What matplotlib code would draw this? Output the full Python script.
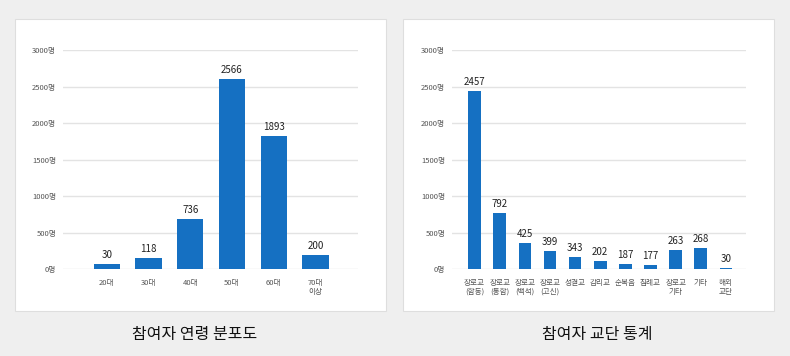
import matplotlib.pyplot as plt
from matplotlib.patches import Rectangle

plt.rcParams['font.family'] = ['Noto Sans CJK KR', 'DejaVu Sans']

# 연령 분포 (bar heights, labels as printed)
age_cats = ['20대', '30대', '40대', '50대', '60대', '70대\n이상']
age_heights = [77, 150, 692, 2603, 1828, 200]
age_labels = ['30', '118', '736', '2566', '1893', '200']

# 교단 통계
den_cats = ['장로교\n(합동)', '장로교\n(통합)', '장로교\n(백석)', '장로교\n(고신)', '성결교',
            '감리교', '순복음', '침례교', '장로교\n기타', '기타', '해외\n교단']
den_heights = [2443, 774, 360, 246, 168, 114, 77, 55, 264, 291, 18]
den_labels = ['2457', '792', '425', '399', '343', '202', '187', '177', '263', '268', '30']

yticks = [0, 500, 1000, 1500, 2000, 2500, 3000]
bar_color = '#1570c2'

fig = plt.figure(figsize=(7.9, 3.56), dpi=100)
fig.patch.set_facecolor('#efefef')

W, H = 790, 356
def px(x0, y0, x1, y1):
    return [x0 / W, (H - y1) / H, (x1 - x0) / W, (y1 - y0) / H]

# white panels behind the axes
for x0, x1 in [(15, 386), (403, 774)]:
    r = px(x0, 19, x1, 311)
    fig.patches.append(Rectangle((r[0], r[1]), r[2], r[3], transform=fig.transFigure,
                                 facecolor='white', edgecolor='#dedede', lw=0.8, zorder=-5))


def draw(rect, cats, heights, labels, width, xlim, title, title_x):
    ax = fig.add_axes(rect)
    ax.set_facecolor('none')
    x = list(range(len(cats)))
    bars = ax.bar(x, heights, width=width, color=bar_color, zorder=3)
    for b, lab in zip(bars, labels):
        ax.annotate(lab, (b.get_x() + b.get_width() / 2, b.get_height()),
                    xytext=(0, 3), textcoords='offset points', ha='center', va='bottom',
                    fontsize=7, color='#222222')
    ax.set_ylim(0, 3000)
    ax.set_xlim(*xlim)
    ax.set_yticks(yticks)
    ax.set_yticklabels([f'{v}명' for v in yticks], fontsize=5.5, color='#555555')
    ax.set_xticks(x)
    ax.set_xticklabels(cats, fontsize=5.5, color='#555555', linespacing=1.1)
    ax.tick_params(axis='both', length=0)
    ax.tick_params(axis='y', pad=5)
    ax.tick_params(axis='x', pad=7)
    ax.grid(axis='y', color='#e3e3e3', lw=1, zorder=0)
    for s in ax.spines.values():
        s.set_visible(False)
    fig.text(title_x / W, 1 - 335 / H, title, ha='center', va='center',
             fontsize=11.5, fontweight='medium', color='#111111')
    return ax


draw(px(63, 50, 358, 269.3), age_cats, age_heights, age_labels, 0.63, (-1.05, 6.02),
     '참여자 연령 분포도', 195)
draw(px(452, 50, 746, 269.3), den_cats, den_heights, den_labels, 0.5, (-0.9, 10.8),
     '참여자 교단 통계', 597)

plt.savefig('out.png', dpi=100, facecolor=fig.get_facecolor())
